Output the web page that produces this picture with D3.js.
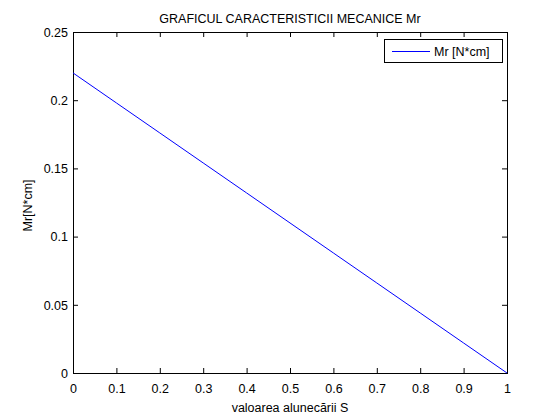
<!DOCTYPE html>
<html><head><meta charset="utf-8">
<script src="https://cdn.jsdelivr.net/npm/d3@7"></script>
<style>body{margin:0;background:#fff;} text{font-family:"Liberation Sans",Arial,sans-serif;}</style>
</head><body>
<svg id="c" width="560" height="420"></svg>
<script>
const sValues = [0, 0.1, 0.2, 0.3, 0.4, 0.5, 0.6, 0.7, 0.8, 0.9, 1.0];
const mrValues = [0.22, 0.198, 0.176, 0.154, 0.132, 0.11, 0.088, 0.066, 0.044, 0.022, 0];
const xTicks = [0, 0.1, 0.2, 0.3, 0.4, 0.5, 0.6, 0.7, 0.8, 0.9, 1];
const yTicks = [0, 0.05, 0.1, 0.15, 0.2, 0.25];
const title = "GRAFICUL CARACTERISTICII MECANICE Mr";
const xLabel = "valoarea alunecării S";
const yLabel = "Mr[N*cm]";
const seriesName = "Mr [N*cm]";

const svg = d3.select("#c");
const L = 73, R = 507, T = 32, B = 373;
const x = d3.scaleLinear().domain([0, 1]).range([L, R]);
const y = d3.scaleLinear().domain([0, 0.25]).range([B, T]);
svg.append("rect").attr("width",560).attr("height",420).attr("fill","#fff");

const fs = "12.5px";
const gx = svg.append("g").attr("transform", `translate(0,${B})`)
  .call(d3.axisBottom(x).tickValues(xTicks).tickFormat(d3.format("")).tickSizeInner(-5).tickSizeOuter(0));
const gxt = svg.append("g").attr("transform", `translate(0,${T})`)
  .call(d3.axisTop(x).tickValues(xTicks).tickFormat("").tickSizeInner(-5).tickSizeOuter(0));
const gy = svg.append("g").attr("transform", `translate(${L},0)`)
  .call(d3.axisLeft(y).tickValues(yTicks).tickFormat(d3.format("")).tickSizeInner(-5).tickSizeOuter(0));
const gyr = svg.append("g").attr("transform", `translate(${R},0)`)
  .call(d3.axisRight(y).tickValues(yTicks).tickFormat("").tickSizeInner(-5).tickSizeOuter(0));
[gx,gxt,gy,gyr].forEach(g=>{
  g.select(".domain").attr("stroke","#000");
  g.selectAll("line").attr("stroke","#000");
  g.selectAll("text").attr("fill","#000").style("font-size",fs).style("font-family","'Liberation Sans',Arial,sans-serif");
});
gy.selectAll("text").attr("x",-5).attr("dy","0.35em");
gx.selectAll("text").attr("y",20).attr("dy",0);

svg.append("rect").attr("x",L).attr("y",T).attr("width",R-L).attr("height",B-T)
  .attr("fill","none").attr("stroke","#000").attr("stroke-width",1).attr("shape-rendering","crispEdges");

const line = d3.line().x((d,i)=>x(sValues[i])).y(d=>y(d));
svg.append("path").datum(mrValues).attr("d",line).attr("fill","none").attr("stroke","#0000ff").attr("stroke-width",1);

svg.append("text").attr("x",(L+R)/2).attr("y",23).attr("text-anchor","middle").style("font-size",fs).text(title);
svg.append("text").attr("x",(L+R)/2).attr("y",412).attr("text-anchor","middle").style("font-size",fs).text(xLabel);
svg.append("text").attr("transform",`translate(32,${(T+B)/2+3}) rotate(-90)`).attr("text-anchor","middle").style("font-size",fs).text(yLabel);

const lg = svg.append("g");
lg.append("rect").attr("x",384.5).attr("y",39.5).attr("width",118).attr("height",23).attr("fill","#fff").attr("stroke","#000");
lg.append("line").attr("x1",392).attr("x2",430).attr("y1",51.5).attr("y2",51.5).attr("stroke","#0000ff");
lg.append("text").attr("x",434).attr("y",55.5).style("font-size",fs).text(seriesName);
</script>
</body></html>
